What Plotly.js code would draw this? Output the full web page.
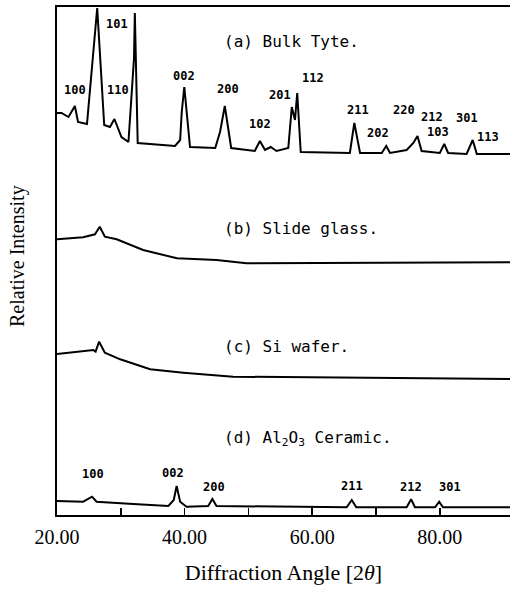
<!DOCTYPE html>
<html>
<head>
<meta charset="utf-8">
<script src="https://cdn.plot.ly/plotly-3.0.1.min.js"></script>
<style>html,body{margin:0;padding:0;background:#fff;}#chart{width:513px;height:591px;}</style>
</head>
<body>
<div id="chart"></div>
<script>
// Diffraction angle (2θ) and relative intensity (stacked, arbitrary units)
const xA = [20.0,20.7,21.8,22.8,23.3,24.7,26.3,27.4,28.3,29.0,30.1,31.2,32.07,32.2,32.65,38.5,39.3,39.55,39.95,40.85,44.8,45.55,46.3,47.3,51.0,51.8,52.6,53.5,54.4,56.25,56.8,57.3,57.65,58.2,65.9,66.6,67.5,70.9,71.6,72.2,74.8,75.85,76.5,77.15,80.0,80.7,81.3,84.2,85.15,85.8,91.0];
const yA = [402,402,398,409,393,391,507,390,388,396,378,373,457,502,372,369,375,403,428,368,367,383,409,367,364,374,365,368,364,367,408,395,422,363,362,392,362,362,369,362,365,372,379,364,362,371,362,361,375,361,361];

const xB = [20.0,24.1,25.95,26.7,27.5,29.35,33.5,38.8,45.0,49.7,91.0];
const yB = [275.7,277.7,280.7,288.3,278.3,275.7,265,256.7,255,251.7,252.7];

const xC = [20.0,25.7,26.05,26.6,27.5,29.9,34.6,39.8,47.6,91.0];
const yC = [161,165,163.3,173.3,162.3,155.7,145.7,142.3,138.3,136];

const xD = [20.0,24.1,25.5,26.2,31.95,37.45,38.3,38.75,39.3,40.3,43.7,44.35,45.0,65.4,66.2,66.9,74.8,75.5,76.1,79.25,79.9,80.5,91.0];
const yD = [14,13.3,18.3,13.3,11,9,15,29,13.3,8.3,9,16,9,7.7,15,7.7,7.7,15.7,7.7,7.7,13.3,7.7,7.7];

// Sample labels
const sampleLabels = ["(a) Bulk Tyte.", "(b) Slide glass.", "(c) Si wafer.", "(d) Al<sub>2</sub>O<sub>3</sub> Ceramic."];
const sampleX = [45.86, 45.86, 45.86, 45.86];
const sampleY = [474, 287, 169, 77];

// Miller index labels
const hklA = ["100","101","110","002","200","102","201","112","211","202","220","212","103","301","113"];
const hklAx = [22.8,29.4,29.6,39.9,46.8,51.8,54.95,60.1,67.2,70.3,74.4,78.8,79.7,84.3,87.55];
const hklAy = [425,491,425,439,426,391,420,437,405,382,405,398,383,397,378];
const hklD = ["100","002","200","211","212","301"];
const hklDx = [25.6,38.2,44.6,66.2,75.5,81.6];
const hklDy = [41,42,28,29,28,28];

// Axis ticks
const tickVals = [20,40,60,80];
const tickText = ["20.00","40.00","60.00","80.00"];
const minorTickVals = [30,50,70];

const lineStyle = {color:'#000', width:2};
const traces = [[xA,yA],[xB,yB],[xC,yC],[xD,yD]].map(([x,y]) => ({
  x: x, y: y, type:'scatter', mode:'lines', line: lineStyle, hoverinfo:'skip', showlegend:false
}));

const annotations = [];
sampleLabels.forEach((t,i) => annotations.push({
  x: sampleX[i], y: sampleY[i], xref:'x', yref:'y', text: t, showarrow:false,
  xanchor:'left', yanchor:'middle', font:{family:'DejaVu Sans Mono', size:16, color:'#000'}
}));
hklA.forEach((t,i) => annotations.push({
  x: hklAx[i], y: hklAy[i], xref:'x', yref:'y', text: t, showarrow:false,
  xanchor:'center', yanchor:'middle', font:{family:'DejaVu Sans Mono', size:12, color:'#000', weight:'bold'}
}));
hklD.forEach((t,i) => annotations.push({
  x: hklDx[i], y: hklDy[i], xref:'x', yref:'y', text: t, showarrow:false,
  xanchor:'center', yanchor:'middle', font:{family:'DejaVu Sans Mono', size:12, color:'#000', weight:'bold'}
}));
annotations.push({
  x: (17-57)/453, y: (515-256)/508, xref:'paper', yref:'paper', xanchor:'center', yanchor:'middle',
  text:'Relative Intensity', textangle:-90, showarrow:false,
  font:{family:'Liberation Serif', size:20, color:'#000'}
});

const layout = {
  width:513, height:591,
  margin:{l:57, r:3, t:7, b:76},
  paper_bgcolor:'#fff', plot_bgcolor:'#fff',
  showlegend:false,
  xaxis:{
    range:[20,91], showgrid:false, zeroline:false,
    showline:true, linecolor:'#000', linewidth:2, mirror:true,
    ticks:'inside', ticklen:7, tickwidth:1.5, tickcolor:'#000',
    tickmode:'array', tickvals:tickVals, ticktext:tickText,
    minor:{tickmode:'array', tickvals:minorTickVals, ticks:'inside', ticklen:7, tickwidth:1.5, tickcolor:'#000', showgrid:false},
    ticklabelstandoff:3,
    tickfont:{family:'Liberation Serif', size:20, color:'#000'},
    title:{text:'Diffraction Angle [2<i>θ</i>]', font:{family:'Liberation Serif', size:22, color:'#000'}, standoff:18}
  },
  yaxis:{
    range:[0,508], showgrid:false, zeroline:false,
    showline:true, linecolor:'#000', linewidth:2,
    ticks:'', showticklabels:false
  },
  annotations: annotations
};

Plotly.newPlot('chart', traces, layout, {staticPlot:true});
</script>
</body>
</html>
